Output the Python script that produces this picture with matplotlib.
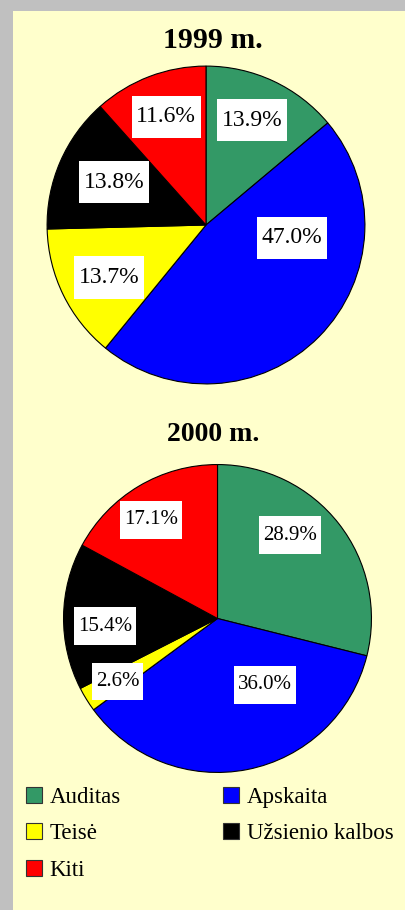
import matplotlib.pyplot as plt
from matplotlib.patches import Rectangle, Patch
from matplotlib.path import Path

# duomenys
categories = ['Auditas', 'Apskaita', 'Teisė', 'Užsienio kalbos', 'Kiti']
colors = ['#339966', '#0000FF', '#FFFF00', '#000000', '#FF0000']
share_1999 = [13.9, 47.0, 13.7, 13.8, 11.6]
share_2000 = [28.9, 36.0, 2.6, 15.4, 17.1]
titles = ['1999 m.', '2000 m.']

# label positions (inside pie, unit-circle coords), excel "best fit" style
lbl_pos_1999 = [(0.29, 0.66), (0.54, -0.08), (-0.61, -0.33), (-0.58, 0.27), (-0.25, 0.68)]
lbl_pos_2000 = [(0.47, 0.54), (0.31, -0.43), (-0.65, -0.41), (-0.73, -0.05), (-0.43, 0.64)]

W, H = 406, 910
plt.rcParams['font.family'] = ['Liberation Serif', 'DejaVu Serif']

fig = plt.figure(figsize=(W / 100, H / 100), dpi=100)
fig.patch.set_facecolor('#C0C0C0')
fig.patches.append(Rectangle((13 / W, 0), 1 - 13 / W, 1 - 11 / H,
                             transform=fig.transFigure, facecolor='#FFFFCC',
                             edgecolor='none', zorder=-5))


def label_box(x0, y0, width, height, mutation_size):
    # white box, more padding top/bottom than sides (like excel labels)
    px = 0.2 * mutation_size
    py = 0.45 * mutation_size
    x1, y1 = x0 + width + px, y0 + height + py
    x0, y0 = x0 - px, y0 - py
    return Path([(x0, y0), (x1, y0), (x1, y1), (x0, y1), (x0, y0)], closed=True)


def px_axes(cx, cy, r):
    # axes box from pixel center/radius (top-left origin)
    return fig.add_axes([(cx - r) / W, 1 - (cy + r) / H, 2 * r / W, 2 * r / H])


def draw_pie(ax, vals, lbl_pos, fs):
    ax.pie(vals, colors=colors, startangle=90, counterclock=False, radius=1,
           wedgeprops=dict(edgecolor='black', linewidth=0.8))
    for v, (x, y) in zip(vals, lbl_pos):
        ax.text(x, y, '%.1f%%' % v, ha='center', va='center', fontsize=fs,
                bbox=dict(boxstyle=label_box, facecolor='white', edgecolor='none'))
    ax.set_xlim(-1.01, 1.01)
    ax.set_ylim(-1.01, 1.01)
    ax.set_aspect('equal')
    ax.axis('off')


ax1 = px_axes(206, 225, 160.5)
draw_pie(ax1, share_1999, lbl_pos_1999, 17)
ax2 = px_axes(217.5, 618.5, 155.5)
draw_pie(ax2, share_2000, lbl_pos_2000, 15)

fig.text(213 / W, 1 - 40 / H, titles[0], ha='center', va='center',
         fontsize=21.5, fontweight='bold')
fig.text(213 / W, 1 - 434 / H, titles[1], ha='center', va='center',
         fontsize=20, fontweight='bold')

# legend, row-wise order in 2 columns
order = [0, 2, 4, 1, 3]
handles = [Patch(facecolor=colors[i], edgecolor='#333333', linewidth=0.8) for i in order]
labels = [categories[i] for i in order]
fig.legend(handles, labels, ncol=2, loc='upper left',
           bbox_to_anchor=(21 / W, 1 - 782 / H), frameon=False,
           fontsize=16.5, handlelength=0.7, handleheight=0.7,
           handletextpad=0.35, labelspacing=0.68, columnspacing=4.45,
           borderaxespad=0, borderpad=0.2)

fig.savefig('out.png', dpi=100, facecolor=fig.get_facecolor())
